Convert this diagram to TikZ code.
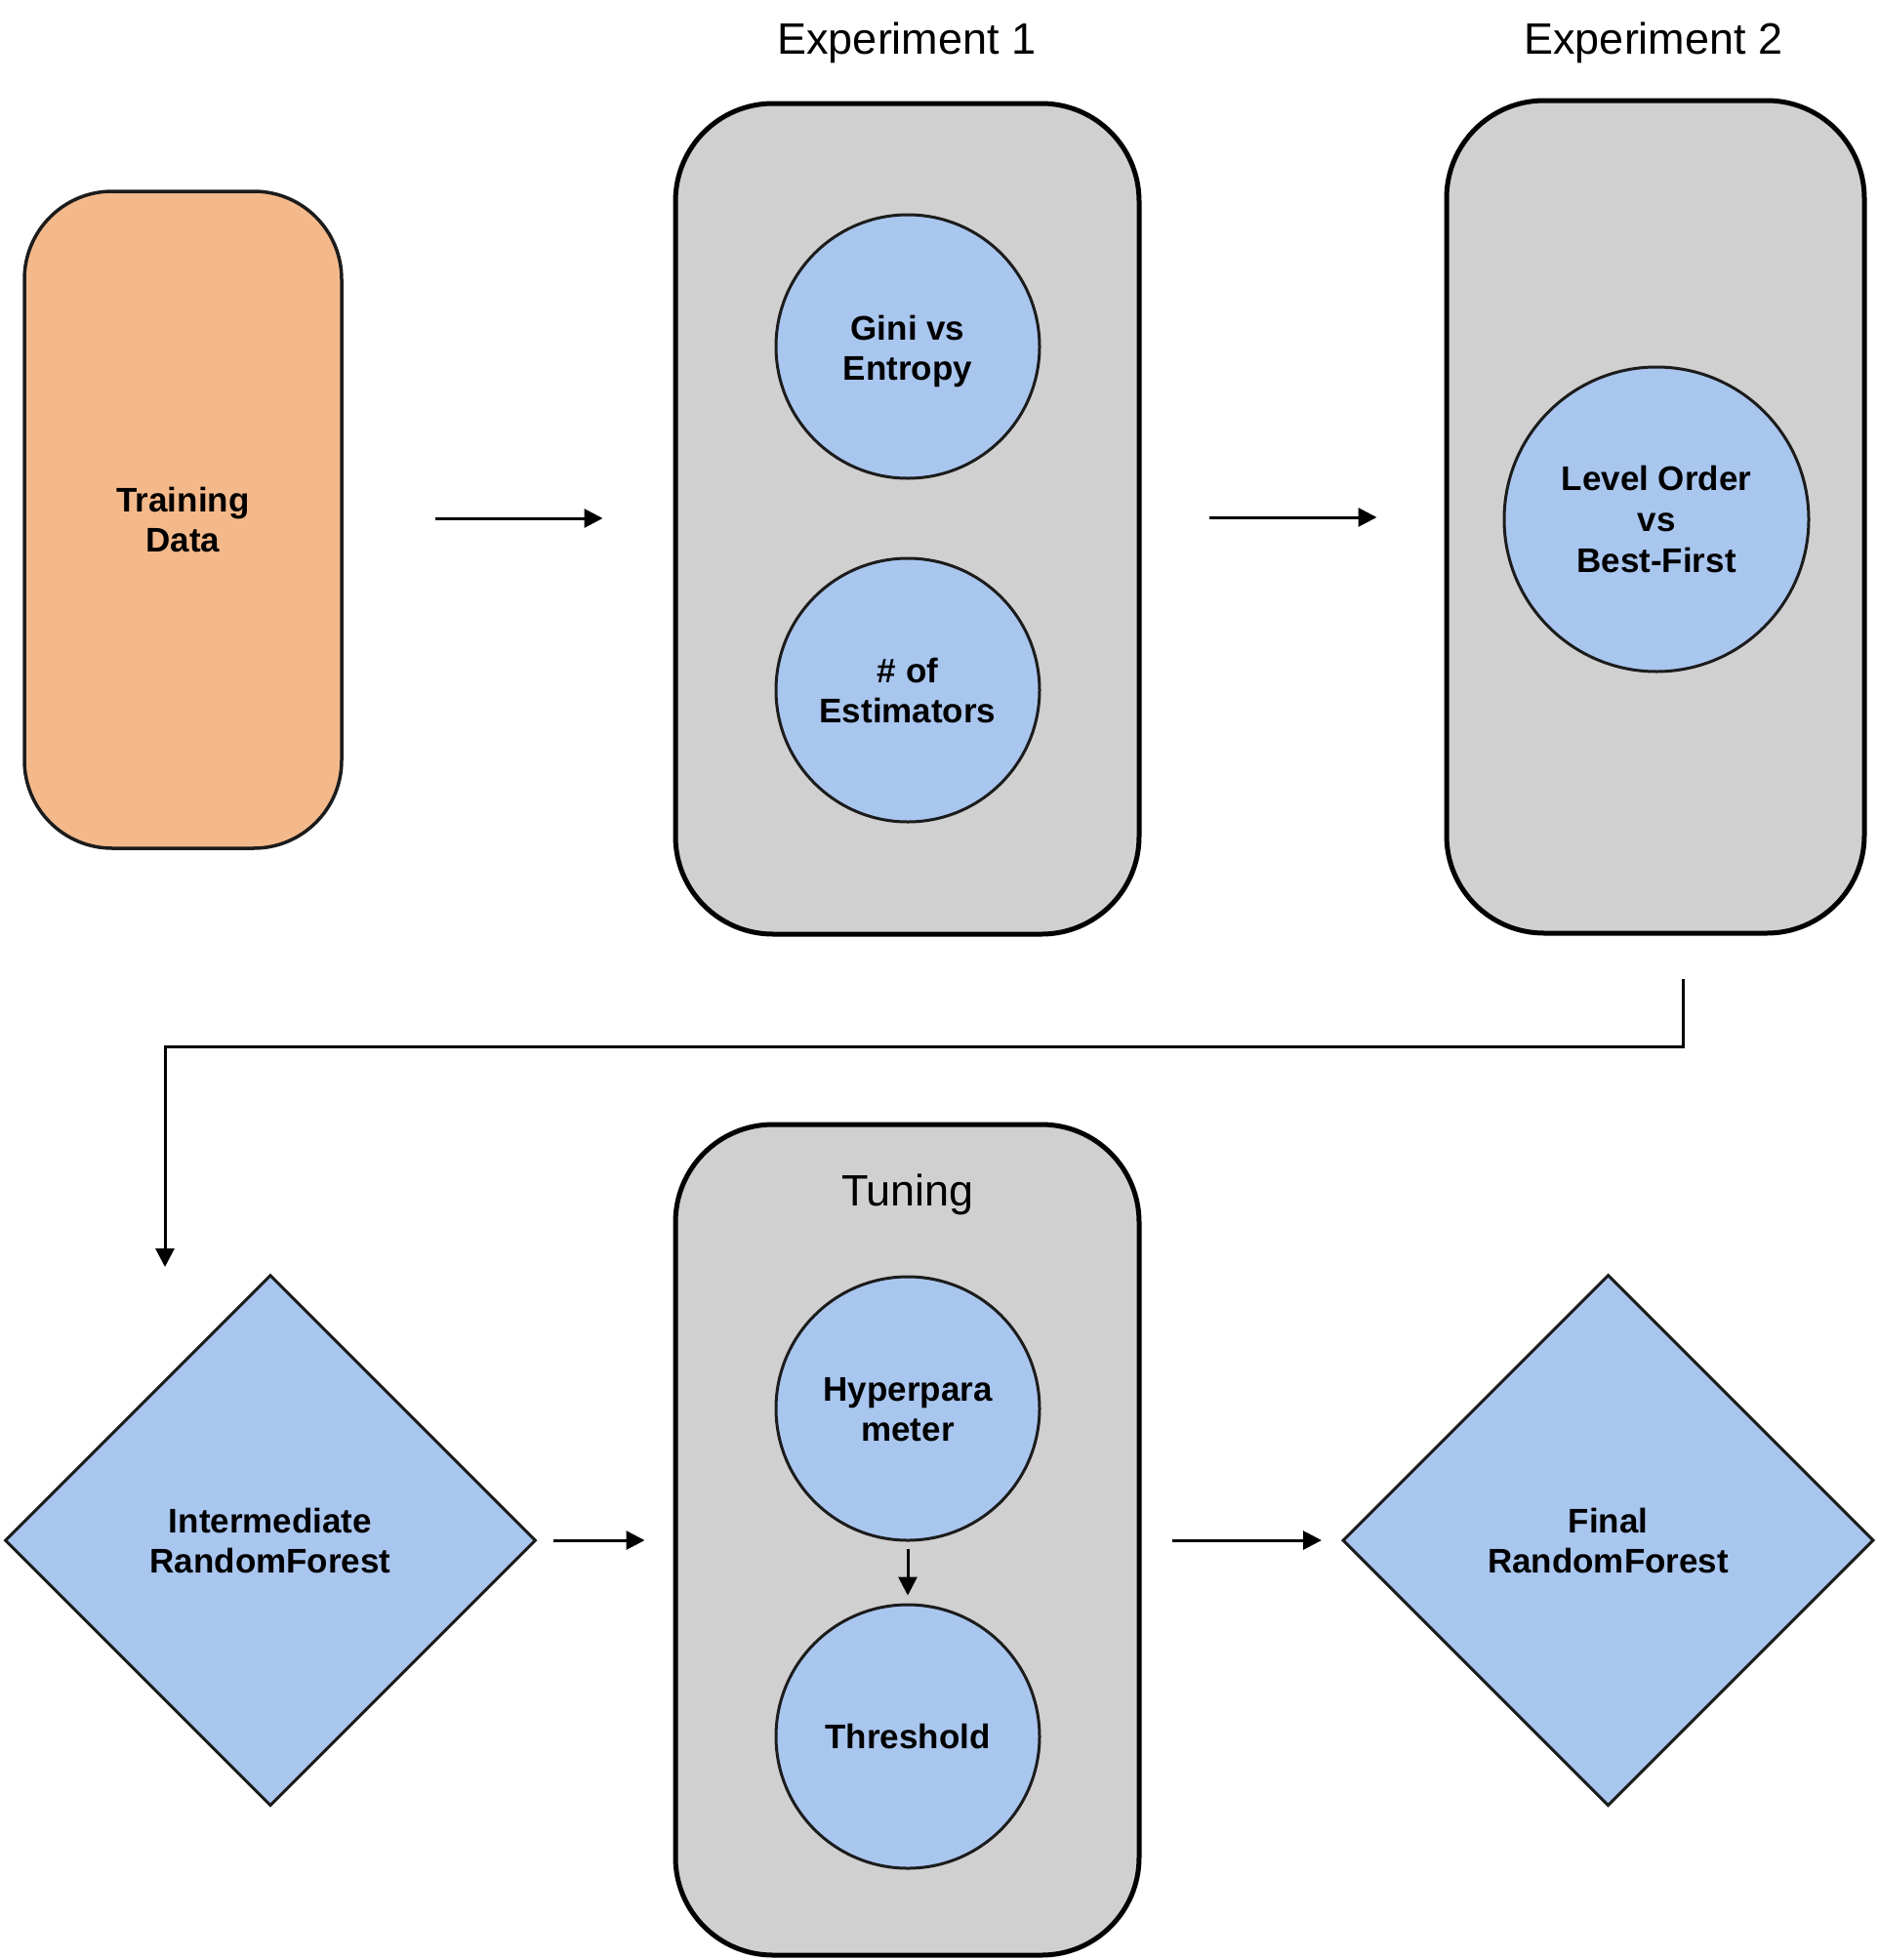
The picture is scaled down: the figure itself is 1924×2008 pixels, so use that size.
\documentclass[tikz,border=0pt]{standalone}
\usepackage{fontspec}
\setmainfont{Liberation Sans}
\usetikzlibrary{arrows.meta,shapes.geometric}

\definecolor{peach}{RGB}{244,185,139}
\definecolor{skyblue}{RGB}{169,198,239}
\definecolor{panelgray}{RGB}{208,208,208}
\definecolor{edgegray}{RGB}{28,28,28}

% two-line label, ink nudged down while the box keeps its size
\newcommand{\lowpair}[3]{\raisebox{-#1}[\height][\depth]{\begin{tabular}{@{}c@{}}#2\\#3\end{tabular}}}

\tikzset{
  panel/.style={draw=black, line width=5pt, fill=panelgray, rounded corners=100pt,
    inner sep=0pt, minimum width=475pt, minimum height=851pt},
  databox/.style={draw=edgegray, line width=3.5pt, fill=peach, rounded corners=90pt,
    inner sep=0pt, minimum width=325pt, minimum height=673pt, align=center,
    font=\fontsize{35}{41}\selectfont\bfseries},
  bubble/.style={circle, draw=edgegray, line width=3pt, fill=skyblue, inner sep=0pt,
    minimum size=270pt, align=center, font=\fontsize{35}{41}\selectfont\bfseries},
  model/.style={diamond, aspect=1, draw=edgegray, line width=3pt, fill=skyblue,
    inner sep=0pt, minimum width=544pt, minimum height=544pt, align=center,
    font=\fontsize{35}{41}\selectfont\bfseries},
  heading/.style={font=\fontsize{45}{50}\selectfont, inner sep=0pt},
  flow/.style={draw=black, line width=3pt, -{Triangle[length=19pt,width=19pt]}},
}

\begin{document}
\begin{tikzpicture}[x=1pt, y=-1pt]
  \useasboundingbox[fill=white] (0,0) rectangle (1924,2008);

  % input data
  \node[databox] (train) at (187.5,532.5) {Training\\Data};

  % experiment panels
  \node[panel] (exp1) at (929.5,531.5) {};
  \node[heading] (exp1t) at (929,44) {Experiment 1};
  \node[bubble] (gini) at (930,355) {\lowpair{6pt}{Gini vs}{Entropy}};
  \node[bubble] (est) at (930,707) {\# of\\Estimators};

  \node[panel, minimum width=428pt, minimum height=853pt] (exp2) at (1696,529.5) {};
  \node[heading] (exp2t) at (1694,44) {Experiment 2};
  \node[bubble, minimum size=312pt, font=\fontsize{35}{42}\selectfont\bfseries]
    (order) at (1697,532) {Level Order\\vs\\Best-First};

  % models and tuning
  \node[model] (inter) at (277,1578) {Intermediate\\RandomForest};

  \node[panel] (tune) at (929.5,1577.5) {};
  \node[heading] (tunet) at (930,1224) {Tuning};
  \node[bubble] (hyper) at (930,1443) {\lowpair{5pt}{Hyperpara}{meter}};
  \node[bubble] (thresh) at (930,1779) {Threshold};

  \node[model] (final) at (1647.5,1578) {Final\\RandomForest};

  % connectors
  \draw[flow, shorten <=94pt, shorten >=72pt] ([yshift=1.5pt]train.east) -- ([yshift=1.5pt]train.east -| exp1.west);
  \draw[flow, shorten <=69pt, shorten >=69pt] ([yshift=1.5pt]exp1.east) -- ([yshift=1.5pt]exp1.east -| exp2.west);

  \coordinate (drop) at (1724,1003);
  \coordinate (entry) at (169,1298);
  \draw[flow] (drop) -- ++(0,69) -| (entry);

  \draw[flow, shorten <=16pt, shorten >=29pt] (inter.east) -- (inter.east -| tune.west);
  \draw[flow, shorten <=31pt, shorten >=20pt] (tune.east |- final.west) -- (final.west);
  \draw[flow, shorten <=7pt, shorten >=8pt] (hyper.south) -- (thresh.north);
\end{tikzpicture}
\end{document}
